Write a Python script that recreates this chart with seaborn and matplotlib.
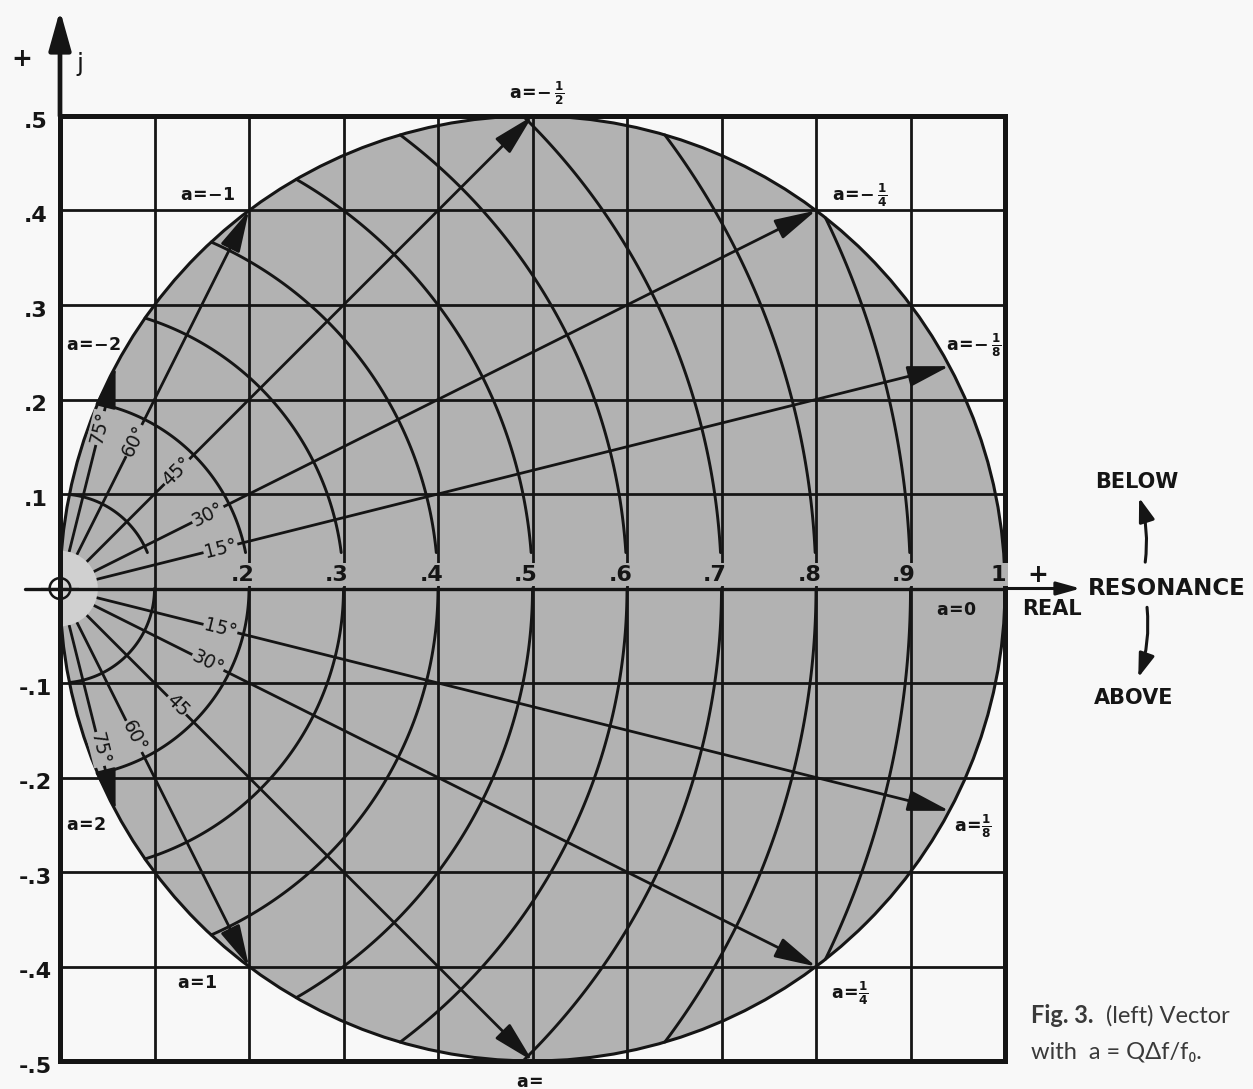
import numpy as np
import pandas as pd
import matplotlib
matplotlib.use("Agg")
import matplotlib.pyplot as plt
import seaborn as sns
from matplotlib.patches import Circle, Rectangle, FancyArrowPatch, Wedge

# chart values
grid_x = [0.1, 0.2, 0.3, 0.4, 0.5, 0.6, 0.7, 0.8, 0.9]
grid_y = [-0.4, -0.3, -0.2, -0.1, 0.1, 0.2, 0.3, 0.4]
y_tick_values = [0.5, 0.4, 0.3, 0.2, 0.1, -0.1, -0.2, -0.3, -0.4, -0.5]
y_tick_labels = [".5", ".4", ".3", ".2", ".1", "-.1", "-.2", "-.3", "-.4", "-.5"]
x_tick_values = [0.2, 0.3, 0.4, 0.5, 0.6, 0.7, 0.8, 0.9, 1.0]
x_tick_labels = [".2", ".3", ".4", ".5", ".6", ".7", ".8", ".9", "1"]
radii = [0.1, 0.2, 0.3, 0.4, 0.5, 0.6, 0.7, 0.8, 0.9]

a_values = [-2, -1, -0.5, -0.25, -0.125, 2, 1, 0.5, 0.25, 0.125]
angle_labels = ["75°", "60°", "45°", "30°", "15°", "75°", "60°", "45", "30°", "15°"]
a_names = [r"$\mathrm{a\!=\!{-}2}$", r"$\mathrm{a\!=\!{-}1}$", r"$\mathrm{a\!=\!{-}\,\frac{1}{2}}$",
           r"$\mathrm{a\!=\!{-}\,\frac{1}{4}}$", r"$\mathrm{a\!=\!{-}\,\frac{1}{8}}$",
           r"$\mathrm{a\!=\!2}$", r"$\mathrm{a\!=\!1}$", r"$\mathrm{a\!=}$",
           r"$\mathrm{a\!=\!\frac{1}{4}}$", r"$\mathrm{a\!=\!\frac{1}{8}}$"]
# label positions (layout only)
a_name_pos = [(0.035, 0.258), (0.156, 0.416), (0.505, 0.524), (0.846, 0.416), (0.967, 0.258),
              (0.028, -0.250), (0.145, -0.417), (0.497, -0.522), (0.836, -0.428), (0.966, -0.252)]

FILL = "#b2b2b2"
LIGHT = "#d0d0d0"
BG = "#f8f8f8"
INK = "#151515"

sns.set_theme(style="white")
plt.rcParams["font.family"] = ["DejaVu Sans"]
plt.rcParams["mathtext.fontset"] = "custom"
plt.rcParams["mathtext.rm"] = "DejaVu Sans:bold"
plt.rcParams["mathtext.bf"] = "DejaVu Sans:bold"
plt.rcParams["mathtext.it"] = "DejaVu Sans:bold"

fig = plt.figure(figsize=(12.53, 10.89), dpi=100, facecolor=BG)
ax = fig.add_axes([0, 0, 1, 1])
ax.set_facecolor(BG)
ax.set_xlim(-60 / 945, 1193 / 945)
ax.set_ylim(-500.5 / 945, 588.5 / 945)
ax.axis("off")

# shaded circle
ax.add_patch(Circle((0.5, 0), 0.5, fc=FILL, ec=INK, lw=2.2, zorder=1))

# grid
for gx in grid_x:
    ax.plot([gx, gx], [-0.5, 0.5], color=INK, lw=2.0, zorder=2)
for gy in grid_y:
    ax.plot([0, 1], [gy, gy], color=INK, lw=2.0, zorder=2)
ax.add_patch(Rectangle((0, -0.5), 1, 1, fill=False, ec=INK, lw=3.6, zorder=4))

# real axis and j axis
ax.plot([-0.037, 1.0], [0, 0], color=INK, lw=2.4, zorder=4)
ax.annotate("", xy=(1.08, 0), xytext=(1.0, 0),
            arrowprops=dict(arrowstyle="-|>,head_length=0.9,head_width=0.25",
                            lw=2.2, color=INK, shrinkA=0, shrinkB=0, mutation_scale=16), zorder=4)
ax.annotate("", xy=(0, 0.612), xytext=(0, 0.5),
            arrowprops=dict(arrowstyle="-|>,head_length=1.5,head_width=0.42",
                            lw=3.4, color=INK, shrinkA=0, shrinkB=0, mutation_scale=16), zorder=4)

# constant magnitude arcs centred on the origin
rows = []
for r in radii:
    top = np.arccos(r)
    for side, t0 in ((1, np.arcsin(0.038 / r)), (-1, 0.0)):
        th = np.linspace(t0, top, 120) * side
        for t in th:
            rows.append({"x": r * np.cos(t), "y": r * np.sin(t), "arc": f"{r}_{side}"})
arcs = pd.DataFrame(rows)
sns.lineplot(data=arcs, x="x", y="y", units="arc", estimator=None, sort=False,
             color=INK, lw=2.1, ax=ax, zorder=3, legend=False)

# small half disk at origin
ax.add_patch(Wedge((0, 0), 0.04, -90, 90, fc=LIGHT, ec="none", zorder=3.5))
ax.add_patch(Circle((0, 0), 0.011, fc="none", ec=INK, lw=1.8, zorder=5))
ax.plot([-0.02, 0.02], [0, 0], color=INK, lw=1.6, zorder=5)
ax.plot([0, 0], [-0.02, 0.02], color=INK, lw=1.6, zorder=5)

# vectors 1/(1+j2a)
for a, lab, name, pos in zip(a_values, angle_labels, a_names, a_name_pos):
    tip = 1 / (1 + 2j * a)
    ang = np.angle(tip)
    start = 0.04 * np.exp(1j * ang)
    ax.annotate("", xy=(tip.real, tip.imag), xytext=(start.real, start.imag),
                arrowprops=dict(arrowstyle="-|>,head_length=1.6,head_width=0.4",
                                lw=2.0, color=INK, shrinkA=0, shrinkB=0, mutation_scale=16),
                zorder=3)
    lp = 0.175 * np.exp(1j * ang)
    ax.text(lp.real, lp.imag, lab, rotation=np.degrees(ang), rotation_mode="anchor",
            ha="center", va="center", fontsize=13.5, color=INK, zorder=6,
            bbox=dict(boxstyle="square,pad=0.05", fc=FILL, ec="none"))
    ax.text(pos[0], pos[1], name, ha="center", va="center", fontsize=12.5, color=INK, zorder=6)

ax.text(0.949, -0.023, r"$\mathrm{a\!=\!0}$", ha="center", va="center", fontsize=12.5,
        color=INK, zorder=6)

# tick labels
for v, t in zip(y_tick_values, y_tick_labels):
    ax.text(-0.026, v - 0.006, t, ha="center", va="center", fontsize=16,
            fontweight="bold", color=INK)
for v, t in zip(x_tick_values, x_tick_labels):
    ax.text(v - 0.007, 0.004, t, ha="center", va="bottom", fontsize=16, fontweight="bold",
            color=INK, zorder=6, bbox=dict(boxstyle="square,pad=0.08", fc=FILL, ec="none"))

ax.text(-0.04, 0.56, "+", ha="center", va="center", fontsize=18, fontweight="bold", color=INK)
ax.text(0.021, 0.555, "j", ha="center", va="center", fontsize=18, color=INK)
ax.text(1.035, 0.014, "+", ha="center", va="center", fontsize=18, fontweight="bold", color=INK)
ax.text(1.050, -0.022, "REAL", ha="center", va="center", fontsize=15, fontweight="bold", color=INK)

# resonance side note
ax.text(1.171, 0.0, "RESONANCE", ha="center", va="center", fontsize=16.5,
        fontweight="bold", color=INK)
ax.text(1.139, 0.113, "BELOW", ha="center", va="center", fontsize=15, fontweight="bold", color=INK)
ax.text(1.136, -0.116, "ABOVE", ha="center", va="center", fontsize=15, fontweight="bold", color=INK)
ax.add_patch(FancyArrowPatch((1.148, 0.025), (1.141, 0.099), connectionstyle="arc3,rad=0.12",
                             arrowstyle="-|>,head_length=0.9,head_width=0.3", mutation_scale=16,
                             lw=2.2, color=INK))
ax.add_patch(FancyArrowPatch((1.150, -0.017), (1.140, -0.097), connectionstyle="arc3,rad=-0.12",
                             arrowstyle="-|>,head_length=0.9,head_width=0.3", mutation_scale=16,
                             lw=2.2, color=INK))

# caption
ax.text(1.027, -0.452, "Fig. 3.", ha="left", va="center", fontsize=17, fontweight="bold",
        color="#3a3a3a", family=["Lato", "DejaVu Sans"])
ax.text(1.107, -0.452, "(left) Vector", ha="left", va="center", fontsize=17,
        color="#3a3a3a", family=["Lato", "DejaVu Sans"])
ax.text(1.027, -0.490, "with  a = QΔf/f₀.", ha="left", va="center", fontsize=17,
        color="#3a3a3a", family=["Lato", "DejaVu Sans"])

plt.savefig("out.png", dpi=100, facecolor=BG)
